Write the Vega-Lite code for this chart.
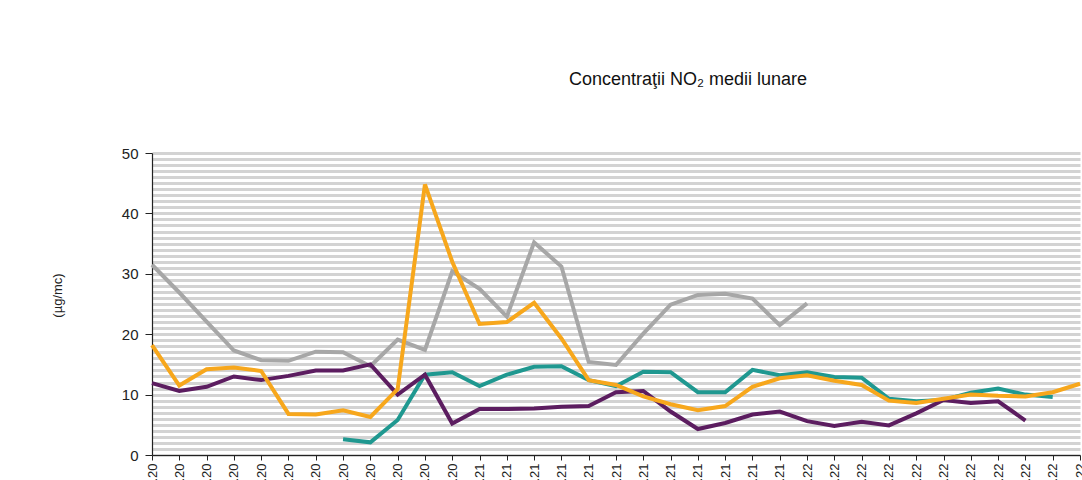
{
  "$schema": "https://vega.github.io/schema/vega-lite/v6.json",
  "autosize": "none",
  "width": 928,
  "height": 302,
  "padding": {"left": 152, "top": 153, "right": 2, "bottom": 25},
  "background": "white",
  "config": {
    "font": "Liberation Sans",
    "view": {"stroke": null}
  },
  "title": {
    "text": "Concentraţii NO₂ medii lunare",
    "font": "Liberation Sans",
    "fontSize": 18,
    "fontWeight": "normal",
    "color": "#111111",
    "anchor": "middle",
    "frame": "group",
    "dx": 72,
    "offset": 57
  },
  "data": {
    "values": [
      {"luna": "ian.20", "s": "A", "v": 31.5}, {"luna": "feb.20", "s": "A", "v": 26.9}, {"luna": "mar.20", "s": "A", "v": 22.1}, {"luna": "apr.20", "s": "A", "v": 17.3}, {"luna": "mai.20", "s": "A", "v": 15.7}, {"luna": "iun.20", "s": "A", "v": 15.6}, {"luna": "iul.20", "s": "A", "v": 17.1}, {"luna": "aug.20", "s": "A", "v": 17.0}, {"luna": "sep.20", "s": "A", "v": 14.7}, {"luna": "oct.20", "s": "A", "v": 19.1}, {"luna": "noi.20", "s": "A", "v": 17.4}, {"luna": "dec.20", "s": "A", "v": 30.4},
      {"luna": "ian.21", "s": "A", "v": 27.5}, {"luna": "feb.21", "s": "A", "v": 22.9}, {"luna": "mar.21", "s": "A", "v": 35.2}, {"luna": "apr.21", "s": "A", "v": 31.2}, {"luna": "mai.21", "s": "A", "v": 15.4}, {"luna": "iun.21", "s": "A", "v": 14.9}, {"luna": "iul.21", "s": "A", "v": 20.1}, {"luna": "aug.21", "s": "A", "v": 24.9}, {"luna": "sep.21", "s": "A", "v": 26.5}, {"luna": "oct.21", "s": "A", "v": 26.7}, {"luna": "noi.21", "s": "A", "v": 25.9}, {"luna": "dec.21", "s": "A", "v": 21.5},
      {"luna": "ian.22", "s": "A", "v": 25.1},

      {"luna": "aug.20", "s": "B", "v": 2.6}, {"luna": "sep.20", "s": "B", "v": 2.1}, {"luna": "oct.20", "s": "B", "v": 5.8}, {"luna": "noi.20", "s": "B", "v": 13.3}, {"luna": "dec.20", "s": "B", "v": 13.7},
      {"luna": "ian.21", "s": "B", "v": 11.4}, {"luna": "feb.21", "s": "B", "v": 13.3}, {"luna": "mar.21", "s": "B", "v": 14.6}, {"luna": "apr.21", "s": "B", "v": 14.7}, {"luna": "mai.21", "s": "B", "v": 12.4}, {"luna": "iun.21", "s": "B", "v": 11.4}, {"luna": "iul.21", "s": "B", "v": 13.8}, {"luna": "aug.21", "s": "B", "v": 13.7}, {"luna": "sep.21", "s": "B", "v": 10.4}, {"luna": "oct.21", "s": "B", "v": 10.4}, {"luna": "noi.21", "s": "B", "v": 14.1}, {"luna": "dec.21", "s": "B", "v": 13.2},
      {"luna": "ian.22", "s": "B", "v": 13.7}, {"luna": "feb.22", "s": "B", "v": 12.9}, {"luna": "mar.22", "s": "B", "v": 12.8}, {"luna": "apr.22", "s": "B", "v": 9.3}, {"luna": "mai.22", "s": "B", "v": 8.9}, {"luna": "iun.22", "s": "B", "v": 9.1}, {"luna": "iul.22", "s": "B", "v": 10.3}, {"luna": "aug.22", "s": "B", "v": 11.0}, {"luna": "sep.22", "s": "B", "v": 10.0}, {"luna": "oct.22", "s": "B", "v": 9.6},

      {"luna": "ian.20", "s": "C", "v": 11.9}, {"luna": "feb.20", "s": "C", "v": 10.6}, {"luna": "mar.20", "s": "C", "v": 11.3}, {"luna": "apr.20", "s": "C", "v": 13.0}, {"luna": "mai.20", "s": "C", "v": 12.4}, {"luna": "iun.20", "s": "C", "v": 13.1}, {"luna": "iul.20", "s": "C", "v": 14.0}, {"luna": "aug.20", "s": "C", "v": 14.0}, {"luna": "sep.20", "s": "C", "v": 15.0}, {"luna": "oct.20", "s": "C", "v": 10.0}, {"luna": "noi.20", "s": "C", "v": 13.3}, {"luna": "dec.20", "s": "C", "v": 5.2},
      {"luna": "ian.21", "s": "C", "v": 7.6}, {"luna": "feb.21", "s": "C", "v": 7.6}, {"luna": "mar.21", "s": "C", "v": 7.7}, {"luna": "apr.21", "s": "C", "v": 8.0}, {"luna": "mai.21", "s": "C", "v": 8.1}, {"luna": "iun.21", "s": "C", "v": 10.4}, {"luna": "iul.21", "s": "C", "v": 10.6}, {"luna": "aug.21", "s": "C", "v": 7.2}, {"luna": "sep.21", "s": "C", "v": 4.3}, {"luna": "oct.21", "s": "C", "v": 5.3}, {"luna": "noi.21", "s": "C", "v": 6.7}, {"luna": "dec.21", "s": "C", "v": 7.2},
      {"luna": "ian.22", "s": "C", "v": 5.6}, {"luna": "feb.22", "s": "C", "v": 4.8}, {"luna": "mar.22", "s": "C", "v": 5.5}, {"luna": "apr.22", "s": "C", "v": 4.9}, {"luna": "mai.22", "s": "C", "v": 6.9}, {"luna": "iun.22", "s": "C", "v": 9.1}, {"luna": "iul.22", "s": "C", "v": 8.6}, {"luna": "aug.22", "s": "C", "v": 8.9}, {"luna": "sep.22", "s": "C", "v": 5.7},

      {"luna": "ian.20", "s": "D", "v": 18.2}, {"luna": "feb.20", "s": "D", "v": 11.5}, {"luna": "mar.20", "s": "D", "v": 14.2}, {"luna": "apr.20", "s": "D", "v": 14.5}, {"luna": "mai.20", "s": "D", "v": 13.9}, {"luna": "iun.20", "s": "D", "v": 6.8}, {"luna": "iul.20", "s": "D", "v": 6.7}, {"luna": "aug.20", "s": "D", "v": 7.4}, {"luna": "sep.20", "s": "D", "v": 6.3}, {"luna": "oct.20", "s": "D", "v": 10.9}, {"luna": "noi.20", "s": "D", "v": 44.8}, {"luna": "dec.20", "s": "D", "v": 32.0},
      {"luna": "ian.21", "s": "D", "v": 21.7}, {"luna": "feb.21", "s": "D", "v": 22.0}, {"luna": "mar.21", "s": "D", "v": 25.2}, {"luna": "apr.21", "s": "D", "v": 19.3}, {"luna": "mai.21", "s": "D", "v": 12.4}, {"luna": "iun.21", "s": "D", "v": 11.6}, {"luna": "iul.21", "s": "D", "v": 9.7}, {"luna": "aug.21", "s": "D", "v": 8.4}, {"luna": "sep.21", "s": "D", "v": 7.4}, {"luna": "oct.21", "s": "D", "v": 8.1}, {"luna": "noi.21", "s": "D", "v": 11.3}, {"luna": "dec.21", "s": "D", "v": 12.7},
      {"luna": "ian.22", "s": "D", "v": 13.2}, {"luna": "feb.22", "s": "D", "v": 12.3}, {"luna": "mar.22", "s": "D", "v": 11.6}, {"luna": "apr.22", "s": "D", "v": 9.0}, {"luna": "mai.22", "s": "D", "v": 8.6}, {"luna": "iun.22", "s": "D", "v": 9.3}, {"luna": "iul.22", "s": "D", "v": 10.0}, {"luna": "aug.22", "s": "D", "v": 9.8}, {"luna": "sep.22", "s": "D", "v": 9.7}, {"luna": "oct.22", "s": "D", "v": 10.4}, {"luna": "noi.22", "s": "D", "v": 11.8}
    ]
  },
  "mark": {"type": "line", "strokeWidth": 4, "strokeJoin": "miter", "strokeCap": "butt"},
  "encoding": {
    "x": {
      "field": "luna",
      "type": "ordinal",
      "sort": ["ian.20","feb.20","mar.20","apr.20","mai.20","iun.20","iul.20","aug.20","sep.20","oct.20","noi.20","dec.20","ian.21","feb.21","mar.21","apr.21","mai.21","iun.21","iul.21","aug.21","sep.21","oct.21","noi.21","dec.21","ian.22","feb.22","mar.22","apr.22","mai.22","iun.22","iul.22","aug.22","sep.22","oct.22","noi.22"],
      "scale": {"type": "point", "padding": 0},
      "axis": {
        "title": null,
        "grid": false,
        "domainColor": "#222222",
        "domainWidth": 1.2,
        "tickColor": "#222222",
        "tickSize": 5,
        "labelAngle": -90,
        "labelFontSize": 13,
        "labelColor": "#222222",
        "labelPadding": 3
      }
    },
    "y": {
      "field": "v",
      "type": "quantitative",
      "scale": {"domain": [0, 50], "nice": false},
      "axis": {
        "title": "(µg/mc)",
        "titleFontSize": 13,
        "titleFontWeight": "normal",
        "titleColor": "#222222",
        "titleX": -95,
        "titleY": 142,
        "titleAngle": -90,
        "titleAlign": "center",
        "titleBaseline": "middle",
        "values": [0,1,2,3,4,5,6,7,8,9,10,11,12,13,14,15,16,17,18,19,20,21,22,23,24,25,26,27,28,29,30,31,32,33,34,35,36,37,38,39,40,41,42,43,44,45,46,47,48,49,50],
        "labelExpr": "datum.value % 10 === 0 ? datum.label : ''",
        "labelFontSize": 15,
        "labelColor": "#222222",
        "labelPadding": 7,
        "tickSize": 7,
        "tickColor": "#222222",
        "tickOpacity": {"condition": {"test": "datum.value % 10 === 0", "value": 1}, "value": 0},
        "domainColor": "#222222",
        "domainWidth": 1.2,
        "grid": true,
        "gridColor": "#d3d3d3",
        "gridWidth": 3
      }
    },
    "color": {
      "field": "s",
      "type": "nominal",
      "scale": {"domain": ["A", "B", "C", "D"], "range": ["#a7a7a7", "#1f9890", "#5c1d60", "#f7a71c"]},
      "legend": null
    }
  }
}
